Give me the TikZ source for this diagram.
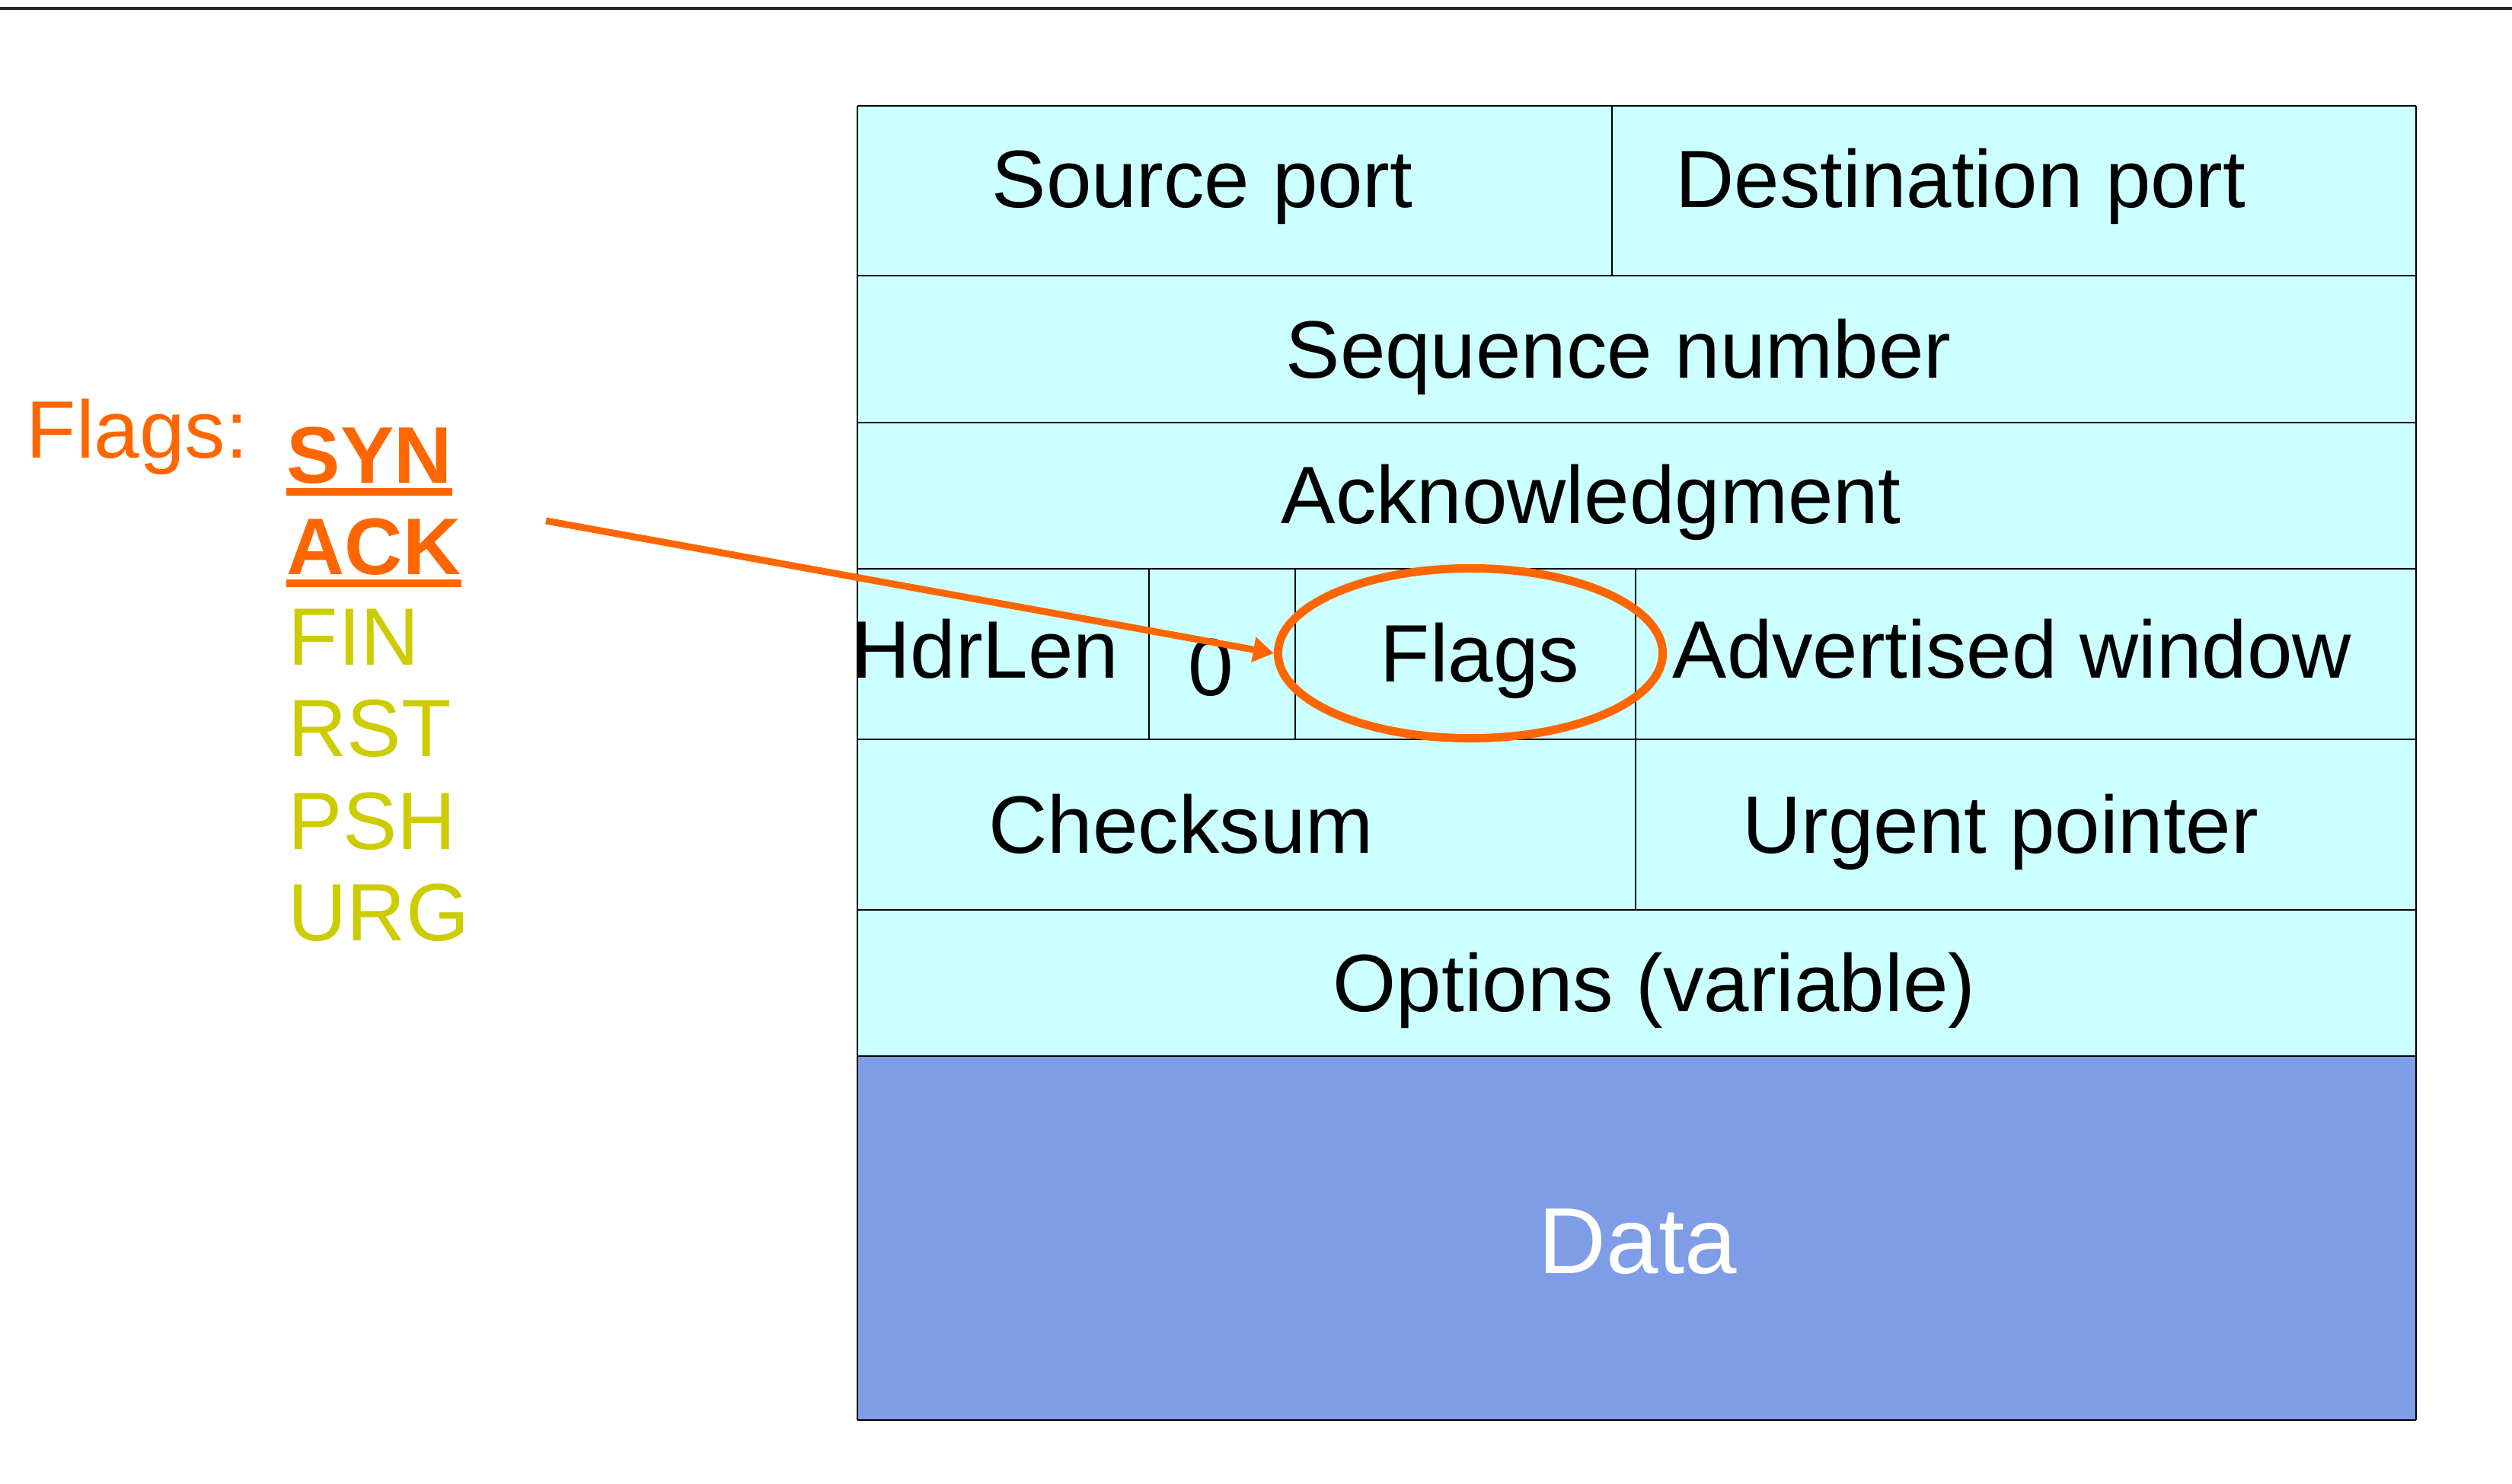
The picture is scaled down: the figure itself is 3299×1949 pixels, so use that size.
\documentclass[tikz,border=0pt]{standalone}
\usepackage{fontspec}
\setmainfont{Liberation Sans}
\usetikzlibrary{arrows.meta,shapes.geometric}
\definecolor{cellcyan}{HTML}{CCFFFF}
\definecolor{datablue}{HTML}{7F9DE6}
\definecolor{flagorange}{HTML}{FF6600}
\definecolor{flagyellow}{HTML}{CCCC00}
\begin{document}
\begin{tikzpicture}[x=0.01cm,y=-0.01cm,
  txt/.style={inner sep=0pt,anchor=base west,font=\fontsize{30.4}{36}\selectfont},
  grid/.style={black,line width=0.65pt},
  uline/.style={flagorange,line width=0.1cm},
  pointer/.style={flagorange,line width=0.09cm,-{Triangle[length=0.27cm,width=0.32cm]}},
  ring/.style={ellipse,draw=flagorange,line width=0.11cm,minimum width=5.05cm,minimum height=2.23cm,inner sep=0pt}]
\useasboundingbox (0,0) rectangle (3299,1949);
% top rule
\draw[black!85,line width=1.1pt] (0,11) -- (3299,11);
% table fills
\fill[cellcyan] (1126,139) rectangle (3173,1387);
\fill[datablue] (1126,1387) rectangle (3173,1865);
% horizontal lines
\foreach \yy in {139,362,555,747,971,1195,1387,1865}
  \draw[grid] (1126,\yy) -- (3173,\yy);
% vertical lines
\draw[grid] (1126,139) -- (1126,1865);
\draw[grid] (3173,139) -- (3173,1865);
\draw[grid] (2117,139) -- (2117,362);
\draw[grid] (1509,747) -- (1509,971);
\draw[grid] (1701,747) -- (1701,971);
\draw[grid] (2148,747) -- (2148,1195);
% table texts
\node[txt] (srcport) at (1302,273) {Source port};
\node[txt] (dstport) at (2200,273) {Destination port};
\node[txt] (seqnum) at (1688,497) {Sequence number};
\node[txt] (acknum) at (1682,688) {Acknowledgment};
\node[txt] (hdrlen) at (1118,890) {HdrLen};
\node[txt] (zero) at (1560,913) {0};
\node[txt] (flagsf) at (1812,896) {Flags};
\node[txt] (advwin) at (2196,890) {Advertised window};
\node[txt] (cksum) at (1298,1120) {Checksum};
\node[txt] (urgptr) at (2288,1120) {Urgent pointer};
\node[txt] (opts) at (1750,1328) {Options (variable)};
\node[txt,font=\fontsize{35}{42}\selectfont,text=white] (data) at (2020,1672) {Data};
% left flag list
\node[txt,text=flagorange] (flagslbl) at (34,602) {Flags:};
\node[txt,text=flagorange,font=\fontsize{30}{36}\selectfont\bfseries] (syn) at (376,635) {SYN};
\node[txt,text=flagorange,font=\fontsize{30}{36}\selectfont\bfseries] (ack) at (376,755) {ACK};
\node[txt,text=flagyellow] (fin) at (378,874) {FIN};
\node[txt,text=flagyellow] (rst) at (378,994) {RST};
\node[txt,text=flagyellow] (psh) at (378,1115) {PSH};
\node[txt,text=flagyellow] (urg) at (378,1235) {URG};
\draw[uline] ([yshift=-0.11cm]syn.base west) -- ([yshift=-0.11cm]syn.base east);
\draw[uline] ([yshift=-0.11cm]ack.base west) -- ([yshift=-0.11cm]ack.base east);
% ellipse and pointer
\node[ring] (flagring) at (1931,858) {};
\coordinate (ptrstart) at (717,684);
\draw[pointer] (ptrstart) -- (flagring.west);
\end{tikzpicture}
\end{document}
